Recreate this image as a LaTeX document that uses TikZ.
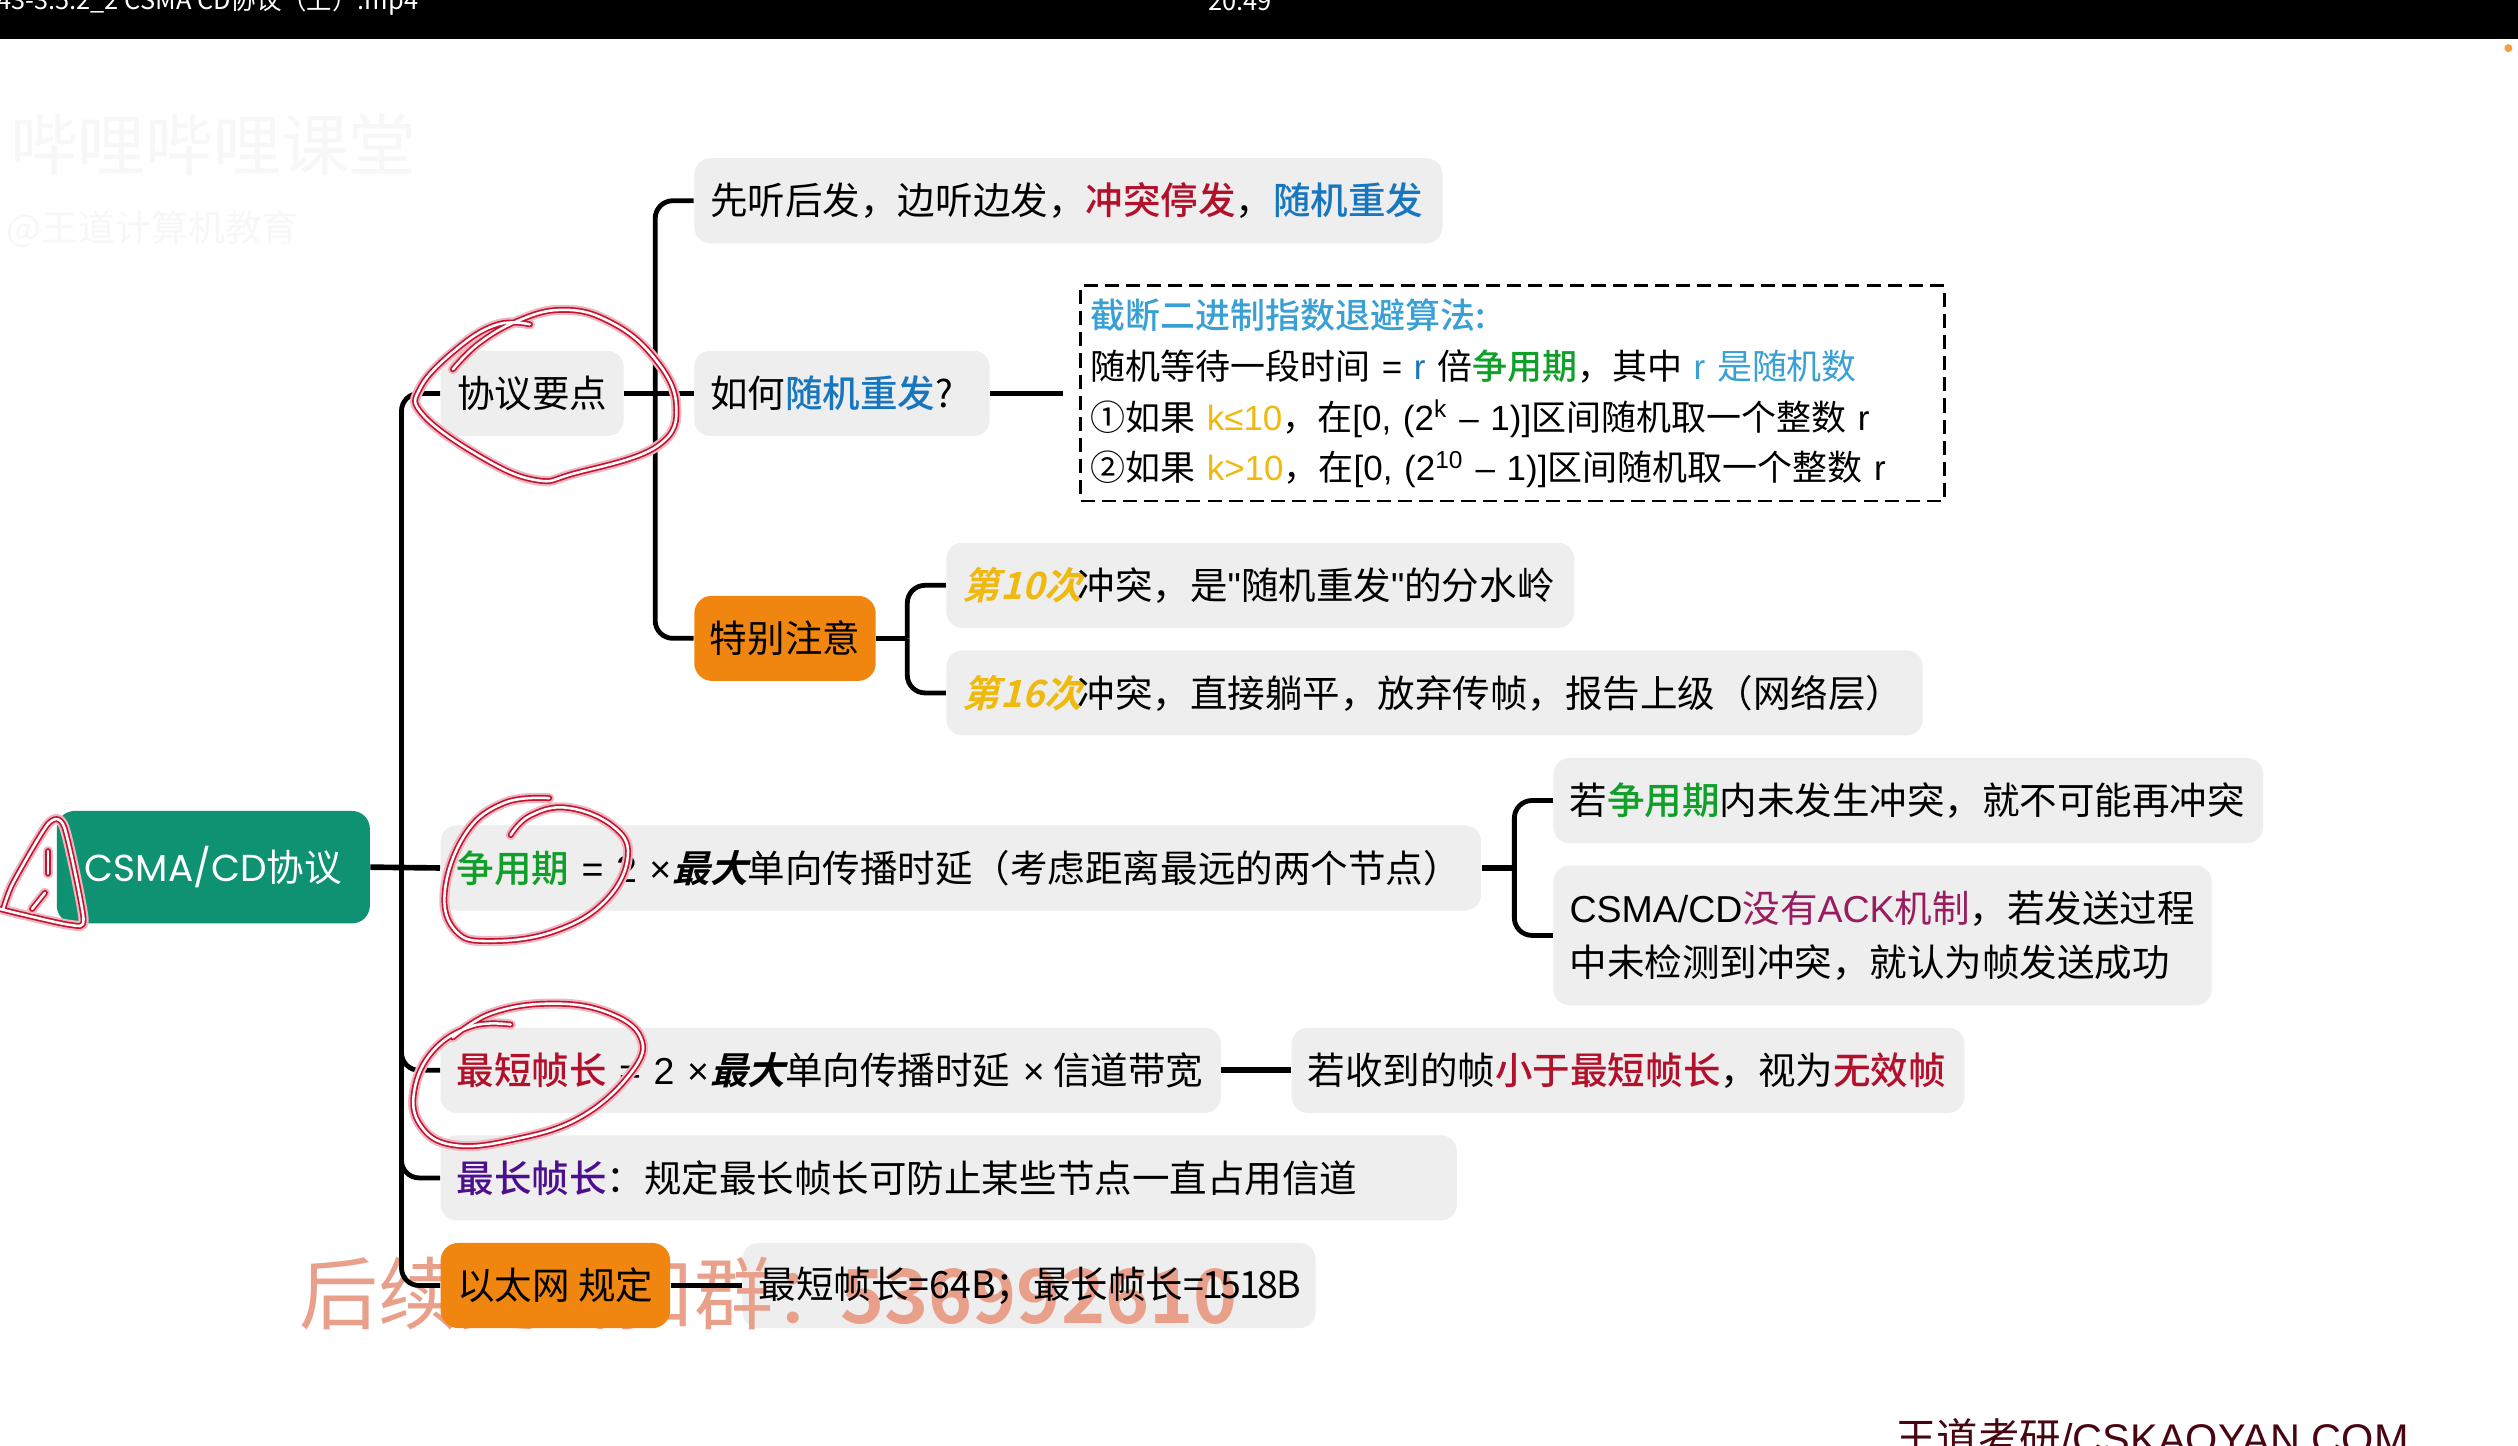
\documentclass[tikz,border=0pt]{standalone}
\usepackage{fontspec}
\setmainfont{Noto Sans CJK SC}[BoldFont={Noto Sans CJK SC Medium}]
\newfontfamily\slantfont[FakeSlant=0.25]{Noto Sans CJK SC Bold}
\newfontfamily\heavyfont{Noto Sans CJK SC Bold}
\newfontfamily\footfont{Liberation Sans}
\newfontfamily\rootfont{Poppins}
\usetikzlibrary{positioning}
\definecolor{boxgray}{HTML}{EEEEEE}
\definecolor{rootgreen}{HTML}{0F9272}
\definecolor{noteorange}{HTML}{F0860F}
\definecolor{hotred}{HTML}{B3102C}
\definecolor{retryblue}{HTML}{1876BE}
\definecolor{algoblue}{HTML}{38A0D4}
\definecolor{contgreen}{HTML}{10A02A}
\definecolor{warnyellow}{HTML}{F0B90F}
\definecolor{maxpurple}{HTML}{4C0F8E}
\definecolor{ackmagenta}{HTML}{981C5E}
\definecolor{inkred}{HTML}{C4122F}
\definecolor{markorange}{HTML}{E9A08A}
\newcommand{\latintxt}[1]{{\footfont #1}}
\newcommand{\hot}[1]{\textcolor{hotred}{\textbf{#1}}}
\newcommand{\retry}[1]{\textcolor{retryblue}{\textbf{#1}}}
\newcommand{\cont}[1]{\textcolor{contgreen}{\textbf{#1}}}
\newcommand{\warn}[1]{\textcolor{warnyellow}{\footfont #1}}
\newcommand{\warnit}[1]{\textcolor{warnyellow}{\slantfont #1}\hspace{-1.5pt}}
\newcommand{\maxit}{{\slantfont 最大}}
\newcommand{\twotimes}{\latintxt{ = 2 × }\hspace{-4pt}}
\tikzset{
  basefont/.style={font=\fontsize{13.3}{18}\selectfont},
  topic/.style={basefont,fill=boxgray,rounded corners=.2cm,minimum height=1.06cm,inner xsep=.2cm,inner ysep=0pt,align=left,anchor=west},
  notebox/.style={basefont,fill=noteorange,rounded corners=.22cm,minimum height=1.06cm,inner xsep=0pt,inner ysep=0pt,align=center,anchor=west},
  rootbox/.style={basefont,fill=rootgreen,text=white,rounded corners=.22cm,minimum width=3.9cm,minimum height=1.4cm,inner sep=0pt,anchor=west},
  algobox/.style={font=\fontsize{12.4}{18}\selectfont,draw,dash pattern=on 5pt off 2.5pt,line width=1pt,inner xsep=.12cm,inner ysep=0pt,minimum height=2.68cm,align=left,anchor=west},
  stem/.style={line width=2pt},
  fork/.style={line width=1.7pt,rounded corners=.22cm},
  inkloop/.style={draw=inkred,line width=.6pt,double=white,double distance=.9pt,line cap=round,line join=round,
    preaction={draw=inkred!30,line width=3.6pt,line cap=round}},
  overmark/.style={font=\fontsize{28}{30}\selectfont,text=markorange,inner sep=0pt,anchor=base west},
  faintmark/.style={text=black!3,inner sep=0pt,anchor=west}
}
\begin{document}
\begin{tikzpicture}[x=.02cm,y=-.02cm]
  \useasboundingbox (0,0) rectangle (1568,900.4);
  \fill[white] (0,0) rectangle (1568,900.4);
  \fill[black] (0,0) rectangle (1568,24);
  \node[inner sep=0pt,anchor=west,text=white,font=\fontsize{9}{10}\selectfont] (filename) at (-2,1) {43-3.5.2\_2 CSMA CD协议（上）.mp4};
  \node[inner sep=0pt,text=white,font=\fontsize{9}{10}\selectfont] (clock) at (772,1) {20:49};
  \node[circle,fill=noteorange!80!white,inner sep=0pt,minimum size=.1cm] (recdot) at (1562,30) {};
  \node[faintmark,font=\fontsize{24}{26}\selectfont] (logo) at (6,90) {哔哩哔哩课堂};
  \node[faintmark,font=\fontsize{13}{15}\selectfont] (logosub) at (4,143) {@王道计算机教育};

  % gray detail box goes under the overlay text
  \node[topic,text width=6.74cm] (limits) at (462,800.5) {\phantom{最短帧长=64B；}};
  \node[overmark] (overlay) at (186,824) {后续更新扣群：};
  \node[overmark,font=\fontsize{26.5}{30}\selectfont\heavyfont] (overlaynum) at (523,824) {536992610};
  \node[inner sep=0pt,anchor=west,basefont] (limitstext) at (472,800.5) {最短帧长=64B；最长帧长{\addfontfeature{LetterSpace=-6}=1518B}};

  \node[rootbox] (root) at (35,540) {{\rootfont CSMA/CD}协议};

  \node[topic,minimum width=2.28cm,align=center,inner xsep=0pt] (keypoints) at (274,245) {协议要点};
  \node[topic,text width=8.92cm] (listen) at (432,125) {先听后发，边听边发，\hot{冲突停发}，\retry{随机重发}};
  \node[topic,text width=3.28cm] (howretry) at (432,245) {如何\retry{随机重发}?};
  \node[algobox,text width=10.52cm] (backoff) at (672,245) {%
    \textcolor{algoblue}{\textbf{截断二进制指数退避算法:}}\\
    随机等待一段时间\latintxt{ = \textcolor{retryblue}{r} }倍\cont{争用期}，其中\latintxt{ \textcolor{algoblue}{r} }\textcolor{algoblue}{是随机数}\\
    ①如果\latintxt{ }\warn{k≤10}，在\latintxt{[0, (2\textsuperscript{k} – 1)]}区间随机取一个整数\latintxt{ r}\\
    ②如果\latintxt{ }\warn{k>10}，在\latintxt{[0, (2\textsuperscript{10} – 1)]}区间随机取一个整数\latintxt{ r}};
  \node[notebox,minimum width=2.26cm] (notice) at (432,397.5) {特别注意};
  \node[topic,text width=7.42cm] (tenth) at (589,364.5) {\warnit{第10次}冲突，是\latintxt{"}随机重发\latintxt{"}的分水岭};
  \node[topic,text width=11.76cm] (sixteenth) at (589,431.5) {\warnit{第16次}冲突，直接躺平，放弃传帧，报告上级（网络层）};

  \node[topic,text width=12.56cm] (contention) at (274,540.5) {\cont{争用期}\twotimes\maxit 单向传播时延（考虑距离最远的两个节点）};
  \node[topic,text width=8.44cm] (nocollide) at (967,498.5) {若\cont{争用期}内未发生冲突，就不可能再冲突};
  \node[topic,text width=7.8cm,minimum height=1.74cm] (noack) at (967,582.5) {%
    \latintxt{CSMA/CD}\textcolor{ackmagenta}{没有\latintxt{ACK}机制}，若发送过程\\[1pt]中未检测到冲突，就认为帧发送成功};

  \node[topic,text width=9.32cm] (minframe) at (274,666.5) {\mbox{\hot{最短帧长}\twotimes\maxit 单向传播时延\latintxt{ × }\hspace{-1.5pt}信道带宽}};
  \node[topic,text width=7.98cm] (invalid) at (804,666.5) {若收到的帧\hot{小于最短帧长}，视为\hot{无效帧}};
  \node[topic,text width=12.26cm] (maxframe) at (274,733.5) {\textcolor{maxpurple}{\textbf{最长帧长}}：规定最长帧长可防止某些节点一直占用信道};
  \node[notebox,minimum width=2.86cm] (ethernet) at (274,800.5) {以太网 规定};

  \node[inner sep=0pt,anchor=base west,text=black!60!hotred,font=\fontsize{14.7}{16}\selectfont] (footer) at (1180,905) {王道考研{\footfont /CSKAOYAN.COM}};

  \coordinate (rootfork) at (250,540);
  \coordinate (keyfork) at (408,245);
  \coordinate (noticefork) at (565,397.5);
  \coordinate (contfork) at (943,540.5);
  \draw[stem] (root.east) -- (contention.west);
  \foreach \n in {keypoints,minframe,maxframe,ethernet}
    \draw[fork] (rootfork) |- (\n.west);
  \draw[stem] (keypoints.east) -- (howretry.west);
  \foreach \n in {listen,notice}
    \draw[fork] (keyfork) |- (\n.west);
  \draw[stem,shorten >=.2cm] (howretry.east) -- (backoff.west);
  \draw[stem] (notice.east) -- (noticefork);
  \foreach \n in {tenth,sixteenth}
    \draw[fork] (noticefork) |- (\n.west);
  \draw[stem] (contention.east) -- (contfork);
  \foreach \n in {nocollide,noack}
    \draw[fork] (contfork) |- (\n.west);
  \draw[stem] (minframe.east) -- (invalid.west);
  \draw[stem] (ethernet.east) -- (limits.west);

  % hand marks from the lecturer
  \draw[inkloop] plot[smooth,tension=.7] coordinates {(330,202) (310,202) (286,216) (262,241) (264,259) (302,286) (334,299) (357,295) (409,278) (421,251) (405,220) (377,199) (349,193) (322,200) (298,214) (282,230)};
  \draw[inkloop] plot[smooth,tension=.7] coordinates {(318,520) (330,508) (353,503) (381,514) (391,533) (377,561) (345,580) (306,586) (284,580) (277,555) (290,519) (314,500) (342,497)};
  \draw[inkloop] plot[smooth,tension=.7] coordinates {(318,638) (294,639) (270,654) (258,679) (262,701) (282,713) (318,710) (361,696) (393,668) (399,646) (377,630) (342,625) (306,631) (282,646)};
  \draw[inkloop] plot[smooth,tension=.4] coordinates {(2,566) (8,550) (30,513) (40,515) (52,572) (44,576) (12,569) (0,566)};
  \draw[inkloop] (30,530) -- (30,544);
  \draw[inkloop] (28,556) -- (20,566);
\end{tikzpicture}
\end{document}
